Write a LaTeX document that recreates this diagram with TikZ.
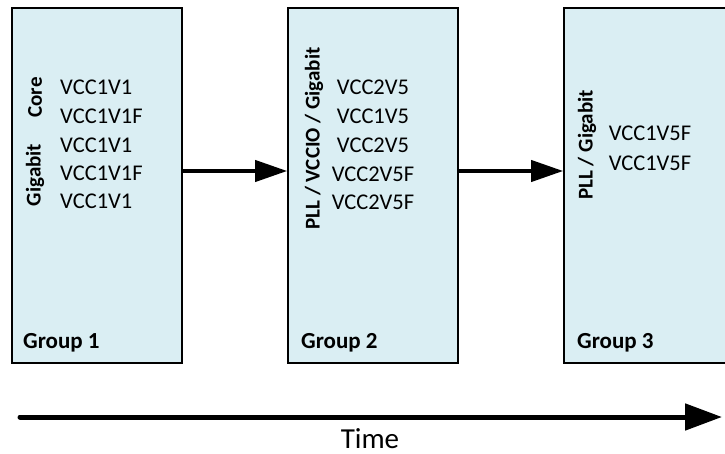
\documentclass[tikz,border=0pt]{standalone}
\usepackage{fontspec}
\setmainfont{Carlito}
\usetikzlibrary{arrows.meta}
\definecolor{boxfill}{HTML}{DAEEF3}
\tikzset{
  grp/.style={draw=black, line width=1.6pt, fill=boxfill, minimum width=170pt, minimum height=355pt, inner sep=0pt},
  vcc/.style={inner sep=0pt, font=\fontsize{22.5}{27}\selectfont},
  side/.style={inner sep=0pt, rotate=90, font=\fontsize{21}{25}\selectfont\bfseries},
  glabel/.style={inner sep=0pt, anchor=base west, font=\fontsize{23}{28}\selectfont\bfseries},
  conn/.style={line width=4pt, -{Triangle[length=32pt,width=21pt]}},
  timearrow/.style={line width=5pt, line cap=round, -{Triangle[length=37pt,width=26pt]}}
}
\begin{document}
\begin{tikzpicture}[x=1pt,y=-1pt]
\clip (0,0) rectangle (725,454);
\fill[white] (0,0) rectangle (725,454);
% boxes
\node[grp] (b1) at (97,185.5) {};
\node[grp] (b2) at (373,185.5) {};
\node[grp] (b3) at (649,185.5) {};
% group 1
\node[side] (core) at (35,97.5) {Core};
\node[side] (gig1) at (35,175) {Gigabit};
\node[vcc, anchor=base west] (g1a) at (60,95) {VCC1V1};
\node[vcc, anchor=base west] (g1b) at (60,124) {VCC1V1F};
\node[vcc, anchor=base west] (g1c) at (60,153) {VCC1V1};
\node[vcc, anchor=base west] (g1d) at (60,181) {VCC1V1F};
\node[vcc, anchor=base west] (g1e) at (60,209) {VCC1V1};
\node[glabel] (l1) at (23,348) {Group 1};
% group 2
\node[side] (s2) at (314,138.5) {PLL / VCCIO / Gigabit};
\node[vcc, anchor=base] (g2a) at (373,95) {VCC2V5};
\node[vcc, anchor=base] (g2b) at (373,124) {VCC1V5};
\node[vcc, anchor=base] (g2c) at (373,153) {VCC2V5};
\node[vcc, anchor=base] (g2d) at (373,182) {VCC2V5F};
\node[vcc, anchor=base] (g2e) at (373,210) {VCC2V5F};
\node[glabel] (l2) at (301,348) {Group 2};
% group 3
\node[side] (s3) at (587,145) {PLL / Gigabit};
\node[vcc, anchor=base] (g3a) at (650,140.5) {VCC1V5F};
\node[vcc, anchor=base] (g3b) at (650,170.5) {VCC1V5F};
\node[glabel] (l3) at (577,348) {Group 3};
% connectors
\coordinate (m) at (0,171);
\draw[conn] (b1.east |- m) -- (b2.west |- m);
\draw[conn] (b2.east |- m) -- (b3.west |- m);
% time arrow
\coordinate (t0) at (20,417);
\coordinate (t1) at (722,417);
\draw[timearrow] (t0) -- (t1);
\node[inner sep=0pt, anchor=base, font=\fontsize{29}{34}\selectfont] (time) at (370,448) {Time};
\end{tikzpicture}
\end{document}
